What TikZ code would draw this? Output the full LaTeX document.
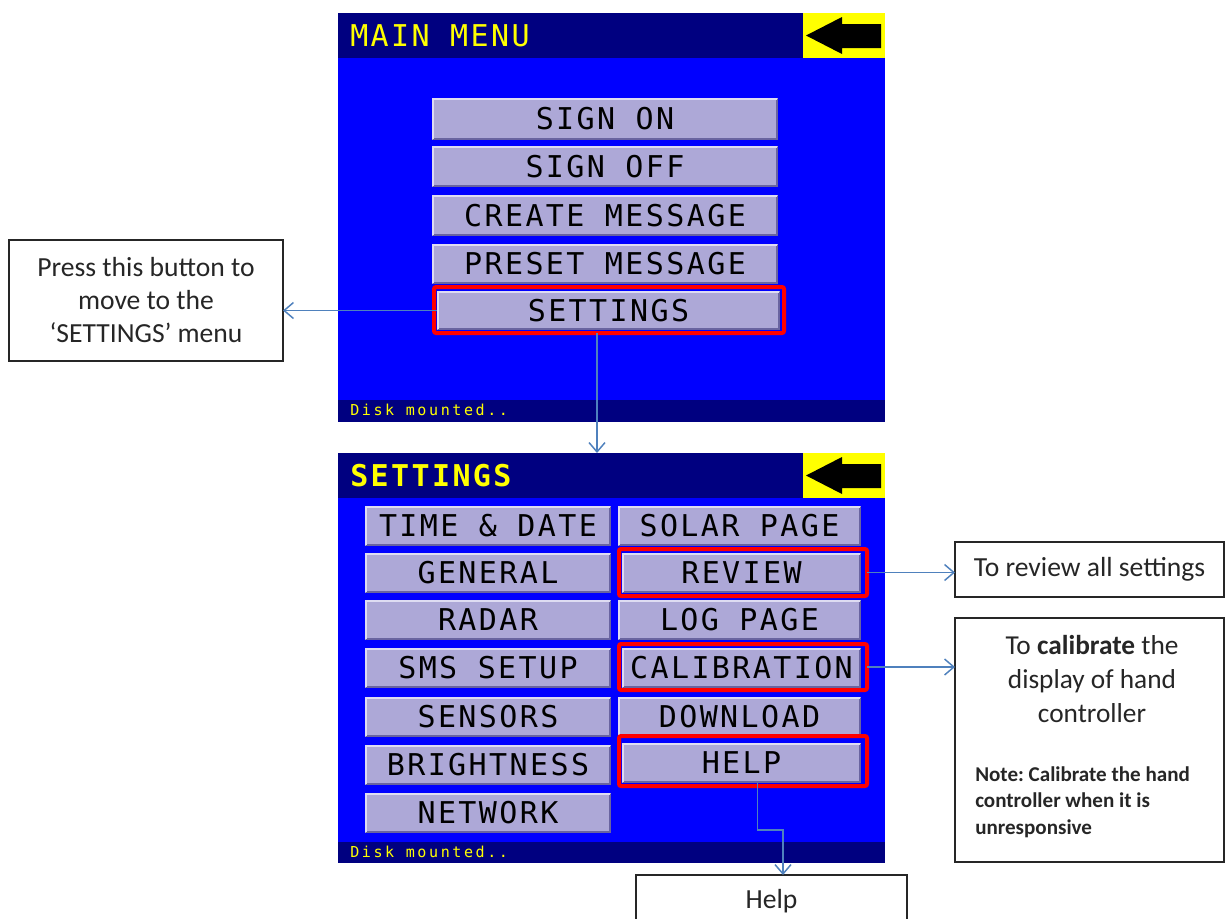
\documentclass[tikz,border=0pt]{standalone}
\usepackage{fontspec}
\setmainfont{Carlito}
\newfontfamily\scrfont{DejaVu Sans Mono}[LetterSpace=8]
\newfontfamily\scrsmall{DejaVu Sans Mono}[LetterSpace=17]
\usetikzlibrary{arrows.meta}
\frenchspacing
\definecolor{navy}{RGB}{0,0,128}
\definecolor{scrblue}{RGB}{0,0,255}
\definecolor{scryellow}{RGB}{255,255,0}
\definecolor{btnfill}{RGB}{173,168,215}
\definecolor{btnlight}{RGB}{222,220,242}
\definecolor{btndark}{RGB}{105,100,160}
\definecolor{hlred}{RGB}{255,0,0}
\definecolor{connblue}{RGB}{79,129,189}
\tikzset{
  panel/.style={rectangle, inner sep=0, outer sep=0},
  btn/.style={rectangle, fill=btnfill, inner sep=0, outer sep=0, text=black,
    font=\scrfont\fontsize{22.5}{24}\selectfont},
  hl/.style={rectangle, draw=hlred, line width=3pt, rounded corners=1.5pt, inner sep=0, outer sep=0},
  bevlight/.style={draw=btnlight, line width=1.5pt},
  bevdark/.style={draw=btndark, line width=1.5pt},
  conn/.style={draw=connblue, line width=1.1pt, -{Straight Barb[length=7pt,width=12pt]}},
  callout/.style={rectangle, draw=black!85, line width=0.9pt, align=center, inner sep=0, outer sep=0,
    font=\fontsize{20.7}{24.75}\selectfont, text=black!85},
  scrtitle/.style={anchor=west, inner sep=0, text=scryellow, font=\scrfont\fontsize{22.5}{24}\selectfont},
  scrstatus/.style={anchor=west, inner sep=0, text=scryellow, font=\scrsmall\fontsize{11.3}{12}\selectfont},
}
% style, name, x1, y1, x2, y2, text
\newcommand\pxnode[7]{%
  \node[#1, minimum width={(#5-#3)*0.75pt}, minimum height={(#6-#4)*0.75pt}] (#2) at ({(#3+#5)/2},{(#4+#6)/2}) {#7};}
% name, x1, y1, x2, y2, text
\newcommand\scrbtn[6]{%
  \pxnode{btn}{#1}{#2}{#3}{#4}{#5}{#6}
  \draw[bevdark] ([shift={(0.75pt,0.75pt)}]#1.south west) -| ([shift={(-0.75pt,-0.75pt)}]#1.north east);
  \draw[bevlight] ([shift={(0.75pt,0.75pt)}]#1.south west) |- ([shift={(-0.75pt,-0.75pt)}]#1.north east);}
\begin{document}
\begin{tikzpicture}[x=0.75pt,y=-0.75pt]
\useasboundingbox (0,0) rectangle (1225,918);
\clip (0,0) rectangle (1225,918);
\fill[white] (0,0) rectangle (1225,918);

% ---------- MAIN MENU panel ----------
\pxnode{panel,fill=scrblue}{mpanel}{338}{13}{885}{422}{}
\pxnode{panel,fill=navy}{mtitle}{338}{13}{885}{58}{}
\pxnode{panel,fill=scryellow}{mback}{803}{13}{885}{58}{}
\fill[black] (806,35.5) -- (842,17) -- (842,24) -- (881,24) -- (881,48) -- (842,48) -- (842,54) -- cycle;
\pxnode{panel,fill=navy}{mstatus}{338}{400}{885}{422}{}
\node[scrtitle] (mtitletext) at (350,36) {MAIN MENU};
\node[scrstatus] (mstatustext) at (350,410) {Disk mounted..};

\scrbtn{btnsignon}{432}{98}{778}{140}{SIGN ON}
\scrbtn{btnsignoff}{432}{146}{778}{187}{SIGN OFF}
\scrbtn{btncreate}{432}{195}{778}{236}{CREATE MESSAGE}
\scrbtn{btnpreset}{432}{244}{778}{284}{PRESET MESSAGE}
\scrbtn{btnset}{437}{291}{780}{330}{SETTINGS}
\pxnode{hl}{hlset}{434}{287}{784}{333}{}

% ---------- SETTINGS panel ----------
\pxnode{panel,fill=scrblue}{spanel}{338}{453}{885}{863}{}
\pxnode{panel,fill=navy}{stitle}{338}{453}{885}{498}{}
\pxnode{panel,fill=scryellow}{sback}{803}{453}{885}{498}{}
\fill[black] (806,475.5) -- (842,457) -- (842,464) -- (881,464) -- (881,488) -- (842,488) -- (842,494) -- cycle;
\pxnode{panel,fill=navy}{sstatus}{338}{842}{885}{863}{}
\node[scrtitle,font=\scrfont\bfseries\fontsize{22.5}{24}\selectfont] (stitletext) at (350,476) {SETTINGS};
\node[scrstatus] (sstatustext) at (350,852) {Disk mounted..};

\scrbtn{btntime}{365}{506}{611}{546}{TIME \& DATE}
\scrbtn{btngeneral}{365}{553}{611}{593}{GENERAL}
\scrbtn{btnradar}{365}{600}{611}{640}{RADAR}
\scrbtn{btnsms}{365}{648}{611}{688}{SMS SETUP}
\scrbtn{btnsensors}{365}{697}{611}{737}{SENSORS}
\scrbtn{btnbright}{365}{745}{611}{785}{BRIGHTNESS}
\scrbtn{btnnetwork}{365}{793}{611}{833}{NETWORK}

\scrbtn{btnsolar}{618}{506}{861}{546}{SOLAR PAGE}
\scrbtn{btnreview}{622}{553}{861}{593}{REVIEW}
\scrbtn{btnlog}{618}{600}{861}{640}{LOG PAGE}
\scrbtn{btncal}{622}{648}{861}{688}{CALIBRATION}
\scrbtn{btndown}{618}{697}{861}{737}{DOWNLOAD}
\scrbtn{btnhelp}{622}{743}{861}{783}{HELP}

\pxnode{hl}{hlrev}{619}{549}{867}{596}{}
\pxnode{hl}{hlcal}{619}{644}{867}{690}{}
\pxnode{hl}{hlhelp}{619}{736}{867}{786}{}

% ---------- callouts ----------
\pxnode{callout}{press}{9}{240}{283}{361}{Press this button to\\move to the\\‘SETTINGS’ menu}
\pxnode{callout}{review}{955}{542}{1224}{597}{To review all settings}
\pxnode{callout}{calib}{955}{618}{1224}{862}{}
\node[align=center, inner sep=0, text=black!85, font=\fontsize{20.5}{25.5}\selectfont] (calibtext) at (1092,679)
  {To \textbf{calibrate} the\\display of hand\\controller};
\node[anchor=north west, align=left, inner sep=0, text=black!85, font=\bfseries\fontsize{15.8}{19.9}\selectfont] (calibnote) at (975,766)
  {Note: Calibrate the hand\\controller when it is\\unresponsive};
\pxnode{callout}{help}{636}{875}{907}{927}{Help}

% ---------- connectors ----------
\draw[conn] (btnset.west) -- (btnset.west -| press.east);
\draw[conn] ([xshift=-9pt]hlset.south) -- ([xshift=-9pt]hlset.south |- spanel.north);
\draw[conn] (hlrev.east) -- (hlrev.east -| review.west);
\draw[conn] (hlcal.east) -- (hlcal.east -| calib.west);
\coordinate (hbend) at (783,830);
\draw[conn] ([xshift=12pt]btnhelp.south) |- (hbend) -- (hbend |- help.north);
\end{tikzpicture}
\end{document}
